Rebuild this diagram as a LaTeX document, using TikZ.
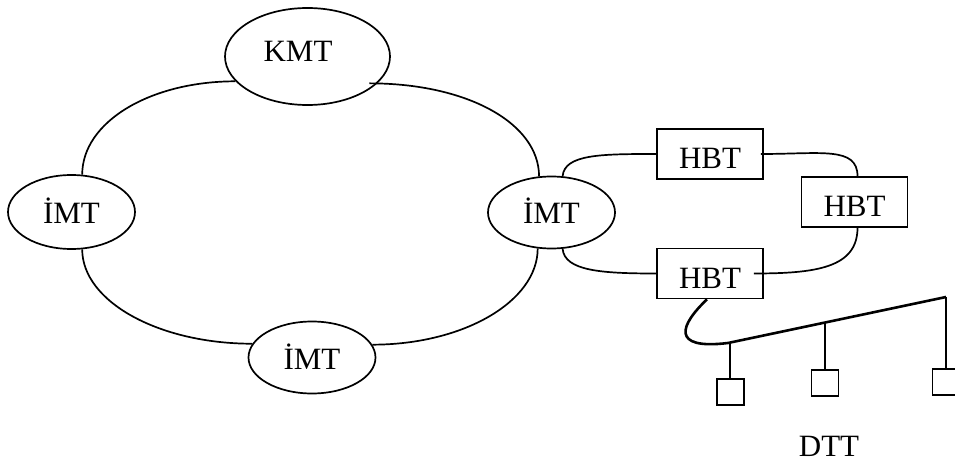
\documentclass[tikz,border=0pt]{standalone}
\usepackage{fontspec}
\setmainfont{Liberation Serif}
\usetikzlibrary{shapes.geometric}

\begin{document}
\begin{tikzpicture}[
  x=1pt, y=-1pt,
  line width=1.7pt,
  font=\fontsize{31pt}{36pt}\selectfont,
  ell/.style={draw, ellipse, inner sep=0pt, text depth=0pt,
    minimum width=127pt, minimum height=72pt, text height=23pt},
  hbtbox/.style={draw, rectangle, inner sep=0pt, text depth=0pt,
    minimum width=106pt, minimum height=50pt, text height=30pt},
  term/.style={draw, rectangle, inner sep=0pt, minimum width=27pt, minimum height=26pt},
  lbl/.style={anchor=base, inner sep=0pt},
  bus/.style={line width=2.6pt},
]
\useasboundingbox (0,0) rectangle (955,462);
\clip (0,0) rectangle (955,462);

% switching centres of the ring
\node[ell, minimum width=165pt, minimum height=97pt, text height=11pt]
  (kmt) at (307.5,56.5) {\hspace*{-19pt}KMT};
\node[ell, minimum height=74pt, text height=24pt] (imtl) at (71.5,212) {İMT};
\node[ell] (imtr) at (551.5,212.5) {İMT};
\node[ell] (imtb) at (312,357.5) {İMT};

% ring links
\draw (imtl.74) .. controls +(0,-53) and +(-85,0) .. (kmt.199);
\draw ([xshift=-8pt]kmt.339) .. controls +(98,0) and +(0,-53) .. (imtr.109);
\draw (imtl.286) .. controls +(0,52) and +(-94,0) .. (imtb.167);
\draw (imtb.12) .. controls +(91,0) and +(0,53) .. (imtr.249);

% HBT loop
\node[hbtbox] (hbt1) at (710,154) {HBT};
\node[hbtbox] (hbt2) at (854.5,202) {HBT};
\node[hbtbox] (hbt3) at (710,273.5) {HBT};

\draw (imtr.73) .. controls +(2,-22) and +(-55,0) .. (hbt1.west);
\draw (imtr.287) .. controls +(2,22) and +(-55,0) .. (hbt3.west);
\draw ([xshift=-3pt]hbt1.east) .. controls +(60,0) and +(0,-30) .. ([xshift=3pt]hbt2.north);
\draw ([xshift=3pt]hbt2.south) .. controls +(0,40) and +(62,0) .. ([xshift=-10pt]hbt3.east);

% terminal bus
\coordinate (busstart) at (728,343);
\coordinate (busend) at (946,297);
\draw[bus] ([xshift=-3pt]hbt3.south) .. controls (680,325) and (670,350) .. (busstart) -- (busend)
  coordinate[pos=0.01] (tap1) coordinate[pos=0.445] (tap2);

\node[term, anchor=north] (dtt1) at (tap1 |- 0,378) {};
\node[term, anchor=north] (dtt2) at (tap2 |- 0,369) {};
\node[term, anchor=north] (dtt3) at (busend |- 0,368) {};
\draw (tap1) -- (dtt1.north);
\draw (tap2) -- (dtt2.north);
\draw (busend) -- (dtt3.north);

\node[lbl] (dtt) at (829,456) {DTT};
\end{tikzpicture}
\end{document}
